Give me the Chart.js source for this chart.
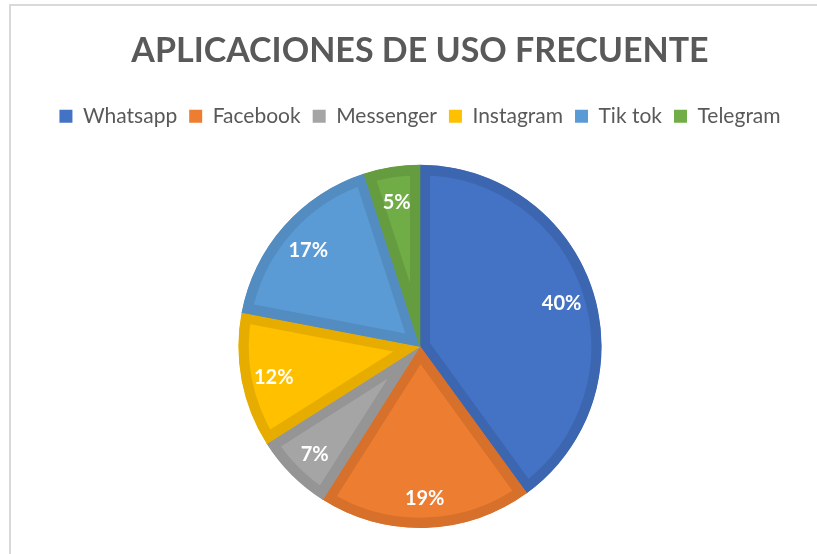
<!DOCTYPE html>
<html>
<head>
<meta charset="utf-8">
<script src="https://cdn.jsdelivr.net/npm/chart.js@4.4.1/dist/chart.umd.min.js"></script>
<style>
  html, body { margin: 0; padding: 0; background: #fff; overflow: hidden; }
  .frame { position: absolute; left: 9px; top: 4px; width: 900px; height: 700px; border: 2px solid #d9d9d9; }
  .wrap { position: absolute; left: 0; top: 0; width: 817px; height: 554px; }
</style>
</head>
<body>
<div class="frame"></div>
<div class="wrap"><canvas id="graphic" width="817" height="554"></canvas></div>
<script>
const apps = ["Whatsapp", "Facebook", "Messenger", "Instagram", "Tik tok", "Telegram"];
const porcentajes = [40, 19, 7, 12, 17, 5];
const colores = ["#4472C4", "#ED7D31", "#A5A5A5", "#FFC000", "#5B9BD5", "#70AD47"];
const bordes = ["#3D66B1", "#D6702B", "#959595", "#E6AD00", "#528CC1", "#659C3F"];

// etiquetas de porcentaje dentro de cada porcion
const etiquetas = {
  id: "etiquetas",
  afterDatasetsDraw(chart) {
    const ctx = chart.ctx;
    const meta = chart.getDatasetMeta(0);
    ctx.save();
    ctx.fillStyle = "#ffffff";
    ctx.font = "bold 20px Lato";
    ctx.textAlign = "center";
    ctx.textBaseline = "middle";
    meta.data.forEach((arc, i) => {
      const p = arc.getProps(["x", "y", "startAngle", "endAngle", "outerRadius"], true);
      const mid = (p.startAngle + p.endAngle) / 2;
      const r = p.outerRadius * 0.82;
      ctx.fillText(porcentajes[i] + "%", p.x + Math.cos(mid) * r, p.y + Math.sin(mid) * r + 3);
    });
    ctx.restore();
  }
};

// mas espacio entre la leyenda y el grafico
const espacioLeyenda = {
  id: "espacioLeyenda",
  beforeInit(chart) {
    const fitOriginal = chart.legend.fit;
    chart.legend.fit = function () {
      fitOriginal.bind(this)();
      this.height += 28;
    };
  }
};

const ctx = document.getElementById("graphic");

const pieChart = new Chart(ctx, {
  type: "pie",
  data: {
    labels: apps,
    datasets: [{
      data: porcentajes,
      backgroundColor: colores,
      borderColor: bordes,
      borderWidth: 10,
      borderAlign: "inner"
    }]
  },
  options: {
    responsive: false,
    animation: false,
    layout: { padding: { left: 23, right: 0, top: 31, bottom: 26 } },
    plugins: {
      title: {
        display: true,
        text: "APLICACIONES DE USO FRECUENTE",
        color: "#595959",
        font: { family: "Lato", size: 34, weight: "bold" },
        padding: { top: 0, bottom: 22 }
      },
      legend: {
        position: "top",
        labels: {
          color: "#595959",
          font: { family: "Lato", size: 21 },
          boxWidth: 13,
          boxHeight: 13,
          padding: 12,
          generateLabels(chart) {
            const items = Chart.overrides.pie.plugins.legend.labels.generateLabels(chart);
            items.forEach(it => { it.lineWidth = 0; it.strokeStyle = it.fillStyle; });
            return items;
          }
        }
      },
      tooltip: { enabled: false }
    }
  },
  plugins: [etiquetas, espacioLeyenda]
});
</script>
</body>
</html>
